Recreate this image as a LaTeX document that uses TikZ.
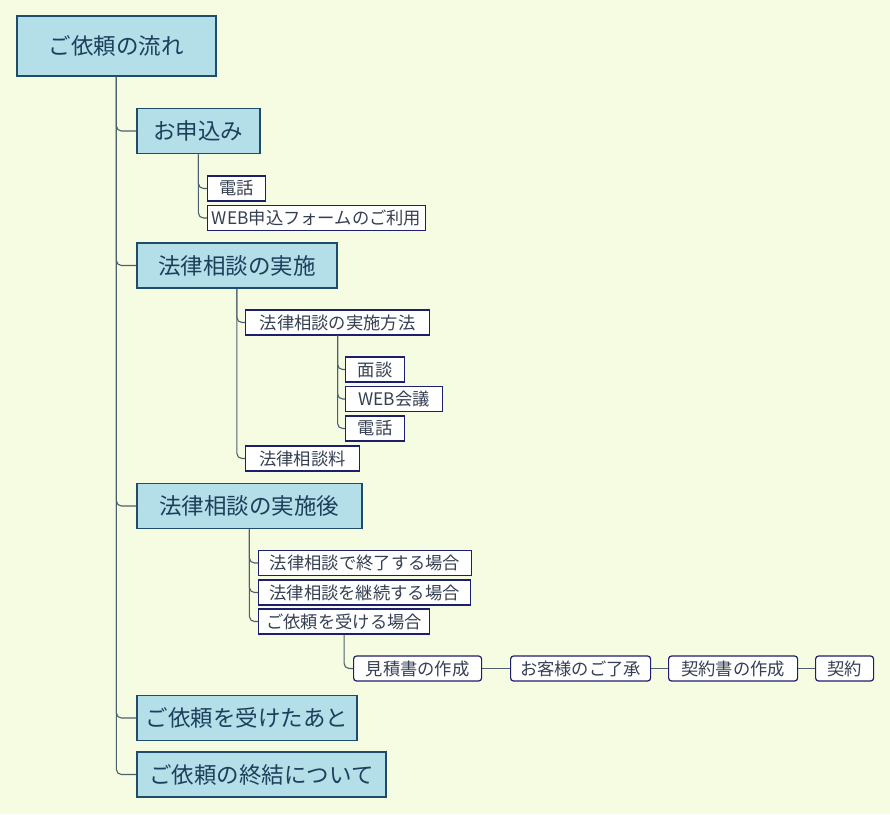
\documentclass[tikz,border=0pt]{standalone}
\usepackage{fontspec}
\usepackage{xcolor}
\usepackage{tikz}
\newfontfamily\jp{Noto Sans CJK JP}
\definecolor{bg}{HTML}{F5FCE1}
\definecolor{boxfill}{HTML}{B4DEE8}
\definecolor{boxline}{HTML}{1E4D6C}
\definecolor{boxtext}{HTML}{1C3F5C}
\definecolor{subline}{HTML}{1E1E6E}
\definecolor{subtext}{HTML}{354052}
\definecolor{wire}{HTML}{4E6070}
\tikzset{
  main/.style={draw=boxline, fill=boxfill, line width=1.8pt, text=boxtext,
    font=\jp\fontsize{22.5}{22.5}\selectfont, anchor=west, inner xsep=2pt,
    minimum height=45, minimum width=#1},
  sub/.style={draw=subline, fill=white, line width=1.2pt, text=subtext,
    font=\jp\fontsize{17.3}{17.3}\selectfont, anchor=west, inner xsep=2pt,
    inner ysep=0pt, minimum height=25, minimum width=#1},
  flow/.style={sub=#1, rounded corners=3pt},
  link/.style={draw=wire, line width=1.1pt, rounded corners=5pt}
}
\begin{document}
\begin{tikzpicture}[x=1pt,y=-1pt]
\fill[bg] (0,0) rectangle (890,814);
\useasboundingbox (0,0) rectangle (890,814);

% top level
\node[main=199, minimum height=60] (root) at (16,46) {ご依頼の流れ};
\node[main=123] (apply) at (136,131) {お申込み};
\node[main=200] (consult) at (136,265.5) {法律相談の実施};
\node[main=225] (after) at (136,506) {法律相談の実施後};
\node[main=220] (accepted) at (136,718) {ご依頼を受けたあと};
\node[main=249] (closing) at (136,774.5) {ご依頼の終結について};

% apply
\node[sub=58] (tel1) at (207,188.5) {電話};
\node[sub=218] (web) at (207,218) {WEB申込フォームのご利用};

% consult
\node[sub=184] (method) at (245,322.5) {法律相談の実施方法};
\node[sub=59] (face) at (345,369.5) {面談};
\node[sub=97] (webmtg) at (345,399) {WEB会議};
\node[sub=59] (tel2) at (345,428.5) {電話};
\node[sub=114] (fee) at (245,458.5) {法律相談料};

% after consult
\node[sub=213] (endcase) at (258,563) {法律相談で終了する場合};
\node[sub=212] (cont) at (258,592.5) {法律相談を継続する場合};
\node[sub=171] (req) at (258,621.5) {ご依頼を受ける場合};

% steps
\node[flow=128] (est) at (353,668.5) {見積書の作成};
\node[flow=140] (consent) at (510,668.5) {お客様のご了承};
\node[flow=129] (contract) at (668,668.5) {契約書の作成};
\node[flow=58] (sign) at (815,668.5) {契約};

% connectors
\foreach \c in {apply,consult,after,accepted,closing}
  \draw[link] (root.south) |- (\c.west);
\foreach \c in {tel1,web}
  \draw[link] (apply.south) |- (\c.west);
\foreach \c in {method,fee}
  \draw[link] (consult.south) |- (\c.west);
\foreach \c in {face,webmtg,tel2}
  \draw[link] (method.south) |- (\c.west);
\foreach \c in {endcase,cont,req}
  \draw[link] (after.south) |- (\c.west);
\draw[link] (req.south) |- (est.west);
\draw[link] (est) -- (consent);
\draw[link] (consent) -- (contract);
\draw[link] (contract) -- (sign);
\end{tikzpicture}
\end{document}
